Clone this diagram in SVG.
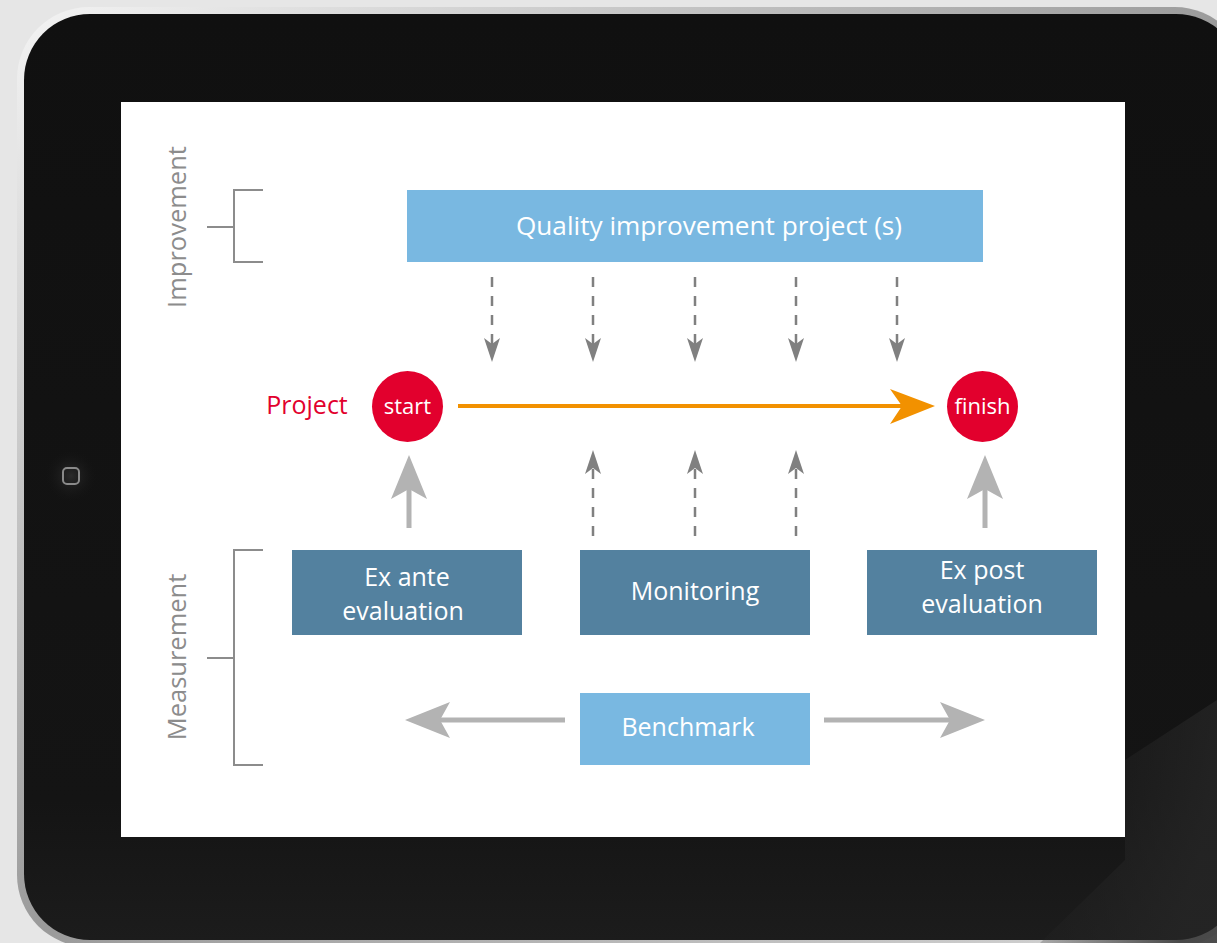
<svg xmlns="http://www.w3.org/2000/svg" width="1217" height="943" viewBox="0 0 1217 943">
  <defs>
    <style>
      .lbl { font-family: "Open Sans", "Noto Sans", "Liberation Sans", sans-serif; }
      .box-light { fill: #79b8e1; }
      .box-dark { fill: #53819f; }
      .box-text { fill: #ffffff; font-size: 25px; text-anchor: middle; }
      .side { fill: #8c8c8c; font-size: 25.5px; text-anchor: middle; }
      .bracket { fill: none; stroke: #8c8c8c; stroke-width: 2; }
      .dash { stroke: #808080; stroke-width: 2.5; stroke-dasharray: 10 9; fill: none; }
      .dash-head { fill: #808080; }
      .big { stroke: #b3b3b3; stroke-width: 5; fill: none; }
      .big-head { fill: #b3b3b3; }
      .dot { fill: #e2002d; }
      .dot-text { fill: #ffffff; font-size: 22px; text-anchor: middle; }
    </style>
    <linearGradient id="bezel" x1="0" y1="0" x2="1" y2="1">
      <stop offset="0" stop-color="#f4f4f4"/>
      <stop offset="0.5" stop-color="#9a9a9a"/>
      <stop offset="1" stop-color="#d8d8d8"/>
    </linearGradient>
    <linearGradient id="body" x1="0" y1="0" x2="0" y2="1">
      <stop offset="0" stop-color="#101010"/>
      <stop offset="0.85" stop-color="#141414"/>
      <stop offset="1" stop-color="#1c1c1c"/>
    </linearGradient>
    <linearGradient id="sheen" x1="0" y1="0" x2="1" y2="0.3">
      <stop offset="0" stop-color="#262626" stop-opacity="0"/>
      <stop offset="1" stop-color="#262626" stop-opacity="0.8"/>
    </linearGradient>
    <radialGradient id="btnGlow">
      <stop offset="0" stop-color="#2c2c2c"/>
      <stop offset="1" stop-color="#141414" stop-opacity="0"/>
    </radialGradient>
  </defs>

  <!-- backdrop and tablet body -->
  <rect x="0" y="0" width="1217" height="943" fill="#e6e6e6"/>
  <rect x="17" y="7" width="1230" height="940" rx="72" fill="url(#bezel)"/>
  <rect x="24" y="14" width="1218" height="926" rx="66" fill="url(#body)"/>
  <polygon points="1125,760 1217,700 1217,943 1040,943 1125,860" fill="url(#sheen)"/>
  <circle cx="71" cy="476" r="26" fill="url(#btnGlow)"/>
  <rect x="63" y="468" width="16" height="16" rx="4" fill="none" stroke="#8a8a8a" stroke-width="2"/>

  <!-- screen -->
  <rect x="121" y="102" width="1004" height="735" fill="#ffffff"/>

  <!-- group labels with brackets -->
  <g id="improvement-label">
    <text class="lbl side" transform="translate(186 227) rotate(-90)">Improvement</text>
    <path class="bracket" d="M263 190 H234 V262 H263 M207 227 H234"/>
  </g>
  <g id="measurement-label">
    <text class="lbl side" transform="translate(186 657) rotate(-90)">Measurement</text>
    <path class="bracket" d="M263 550 H234 V765 H263 M207 658 H234"/>
  </g>

  <!-- connectors -->
  <g id="connectors">
    <!-- dashed influences from the improvement project -->
    <g>
      <line class="dash" x1="492" y1="277" x2="492" y2="345"/>
      <line class="dash" x1="593" y1="277" x2="593" y2="345"/>
      <line class="dash" x1="695" y1="277" x2="695" y2="345"/>
      <line class="dash" x1="796" y1="277" x2="796" y2="345"/>
      <line class="dash" x1="897" y1="277" x2="897" y2="345"/>
      <path class="dash-head" d="M484 338 L492 344 L500 338 L492 362 Z"/>
      <path class="dash-head" d="M585 338 L593 344 L601 338 L593 362 Z"/>
      <path class="dash-head" d="M687 338 L695 344 L703 338 L695 362 Z"/>
      <path class="dash-head" d="M788 338 L796 344 L804 338 L796 362 Z"/>
      <path class="dash-head" d="M889 338 L897 344 L905 338 L897 362 Z"/>
    </g>
    <!-- dashed feedback from monitoring -->
    <g>
      <line class="dash" x1="593" y1="536" x2="593" y2="466"/>
      <line class="dash" x1="695" y1="536" x2="695" y2="466"/>
      <line class="dash" x1="796" y1="536" x2="796" y2="466"/>
      <path class="dash-head" d="M585 474 L593 468 L601 474 L593 450 Z"/>
      <path class="dash-head" d="M687 474 L695 468 L703 474 L695 450 Z"/>
      <path class="dash-head" d="M788 474 L796 468 L804 474 L796 450 Z"/>
    </g>
    <!-- project timeline -->
    <line x1="458" y1="406" x2="905" y2="406" stroke="#f29100" stroke-width="4"/>
    <path d="M890 389 L935 406 L890 424 L902 406 Z" fill="#f29100"/>
    <!-- evaluations feeding start / finish -->
    <line class="big" x1="409" y1="528" x2="409" y2="485"/>
    <path class="big-head" d="M391 499 L409 455 L427 499 L409 489 Z"/>
    <line class="big" x1="985" y1="528" x2="985" y2="485"/>
    <path class="big-head" d="M967 499 L985 455 L1003 499 L985 489 Z"/>
    <!-- benchmark reach -->
    <line class="big" x1="565" y1="720" x2="440" y2="720"/>
    <path class="big-head" d="M450 702 L405 720 L450 738 L440 720 Z"/>
    <line class="big" x1="824" y1="720" x2="950" y2="720"/>
    <path class="big-head" d="M940 702 L985 720 L940 738 L950 720 Z"/>
  </g>

  <!-- nodes -->
  <g id="quality-improvement">
    <rect class="box-light" x="407" y="190" width="576" height="72"/>
    <text class="lbl box-text" x="709" y="235" style="font-size:26.2px">Quality improvement project (s)</text>
  </g>

  <g id="project-label">
    <text class="lbl" x="307" y="414" fill="#e2002d" font-size="25" text-anchor="middle">Project</text>
  </g>

  <g id="start">
    <circle class="dot" cx="407.5" cy="406.5" r="35.5"/>
    <text class="lbl dot-text" x="407.5" y="414">start</text>
  </g>

  <g id="finish">
    <circle class="dot" cx="982.5" cy="406.5" r="35.5"/>
    <text class="lbl dot-text" x="982.5" y="414">finish</text>
  </g>

  <g id="ex-ante">
    <rect class="box-dark" x="292" y="550" width="230" height="85"/>
    <text class="lbl box-text" x="407" y="586">Ex ante</text>
    <text class="lbl box-text" x="403" y="620">evaluation</text>
  </g>

  <g id="monitoring">
    <rect class="box-dark" x="580" y="550" width="230" height="85"/>
    <text class="lbl box-text" x="695" y="600">Monitoring</text>
  </g>

  <g id="ex-post">
    <rect class="box-dark" x="867" y="550" width="230" height="85"/>
    <text class="lbl box-text" x="982" y="579">Ex post</text>
    <text class="lbl box-text" x="982" y="613">evaluation</text>
  </g>

  <g id="benchmark">
    <rect class="box-light" x="580" y="693" width="230" height="72"/>
    <text class="lbl box-text" x="688" y="736">Benchmark</text>
  </g>
</svg>
